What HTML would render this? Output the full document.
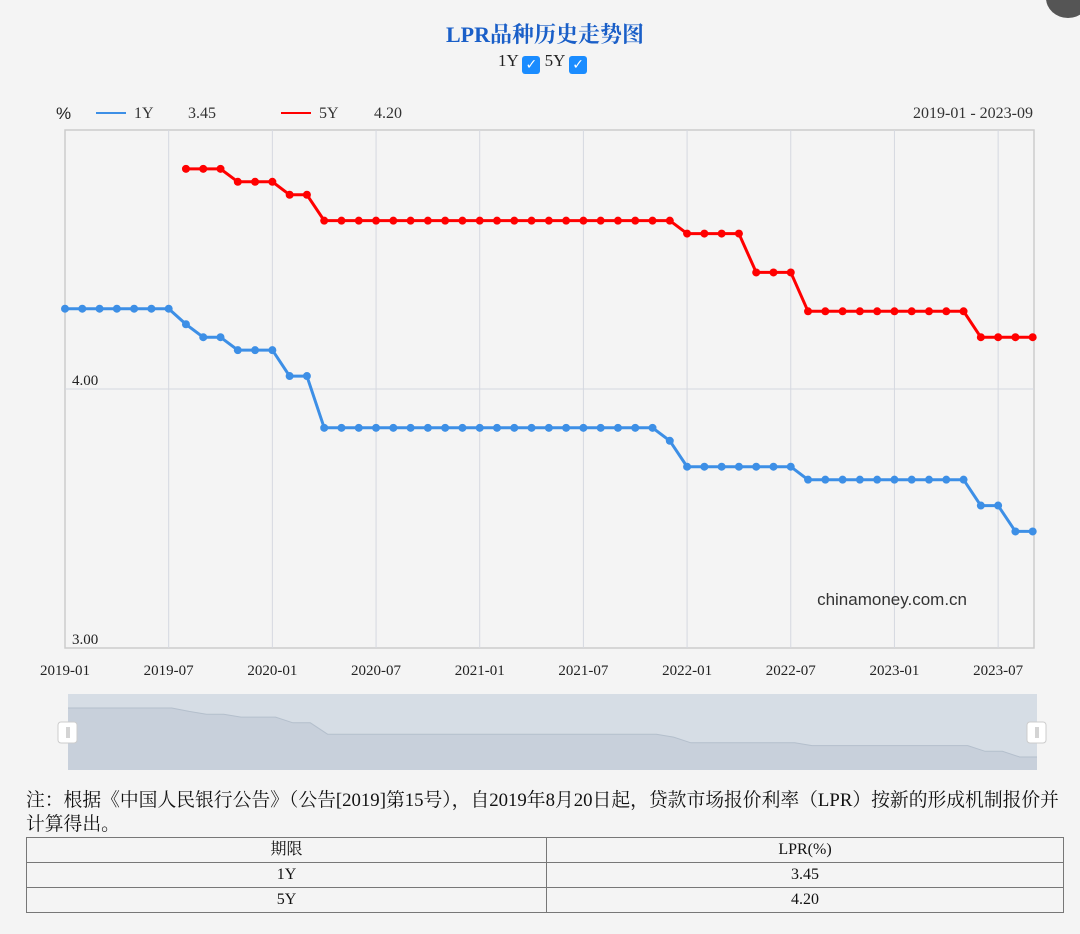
<!DOCTYPE html>
<html><head><meta charset="utf-8"><style>
body{margin:0;width:1080px;height:934px;background:#f4f4f4;font-family:"Liberation Serif","Noto Serif CJK SC",serif;overflow:hidden;position:relative}
.t{position:absolute;white-space:nowrap}
table{position:absolute;left:26px;top:837px;width:1038px;border-collapse:collapse;font-size:16px}
td{border:1.5px solid #777;text-align:center;height:24px;padding:0;color:#111;line-height:20px}
.cb{display:inline-block;width:18px;height:18px;background:#1a8cff;border-radius:3px;color:#fff;font-size:14px;font-weight:bold;line-height:18px;text-align:center;vertical-align:-3px;font-family:"DejaVu Sans",sans-serif}
</style></head><body>
<div style="position:absolute;left:1046px;top:-22px;width:44px;height:40px;border-radius:50%;background:#555"></div>
<div class="t" style="left:0;width:1090px;text-align:center;top:18px;font-size:22px;font-weight:bold;color:#1a5fc8">LPR品种历史走势图</div>
<div class="t" style="left:498px;top:51px;font-size:17px;color:#222">1Y <span class="cb">✓</span> 5Y <span class="cb">✓</span></div>
<svg id="s" width="1080" height="934" style="position:absolute;left:0;top:0" font-family="Liberation Serif, serif"></svg>
<div class="t" style="left:26px;top:789px;font-size:18.8px;line-height:24px;color:#111">注：根据《中国人民银行公告》（公告[2019]第15号），自2019年8月20日起，贷款市场报价利率（LPR）按新的形成机制报价并<br>计算得出。</div>
<table><tr><td style="width:519px">期限</td><td>LPR(%)</td></tr><tr><td>1Y</td><td>3.45</td></tr><tr><td>5Y</td><td>4.20</td></tr></table>
<script>
const y1=[4.31,4.31,4.31,4.31,4.31,4.31,4.31,4.25,4.20,4.20,4.15,4.15,4.15,4.05,4.05];
while(y1.length<35)y1.push(3.85);y1.push(3.80);while(y1.length<43)y1.push(3.70);while(y1.length<53)y1.push(3.65);y1.push(3.55,3.55,3.45,3.45);
const y5=[null,null,null,null,null,null,null,4.85,4.85,4.85,4.80,4.80,4.80,4.75,4.75];
while(y5.length<36)y5.push(4.65);y5.push(4.60,4.60,4.60,4.60,4.45,4.45,4.45);while(y5.length<53)y5.push(4.30);y5.push(4.20,4.20,4.20,4.20);
const X=i=>65+i*17.28,Y=v=>389-(v-4)*259;
let h='';
h+='<rect x="65" y="130" width="969" height="518" fill="none" stroke="#ccc" stroke-width="1.5"/>';
for(let k=1;k<10;k++)h+=`<line x1="${X(6*k)}" y1="130" x2="${X(6*k)}" y2="648" stroke="#d5d8e0"/>`;
h+='<line x1="65" y1="389" x2="1034" y2="389" stroke="#d5d8e0"/>';
const labs=['2019-01','2019-07','2020-01','2020-07','2021-01','2021-07','2022-01','2022-07','2023-01','2023-07'];
labs.forEach((l,k)=>h+=`<text x="${X(6*k)}" y="675" font-size="15" text-anchor="middle" fill="#222">${l}</text>`);
h+='<text x="72" y="385" font-size="15" fill="#222">4.00</text><text x="72" y="644" font-size="15" fill="#222">3.00</text>';
h+='<text x="56" y="119" font-size="17" fill="#222" font-family="Liberation Sans">%</text>';
h+='<line x1="96" y1="113" x2="126" y2="113" stroke="#3d8fe6" stroke-width="2"/><text x="134" y="118" font-size="16" fill="#333">1Y</text><text x="188" y="118" font-size="16" fill="#333">3.45</text>';
h+='<line x1="281" y1="113" x2="311" y2="113" stroke="#f00" stroke-width="2"/><text x="319" y="118" font-size="16" fill="#333">5Y</text><text x="374" y="118" font-size="16" fill="#333">4.20</text>';
h+='<text x="1033" y="118" font-size="16" fill="#333" text-anchor="end">2019-01 - 2023-09</text>';
h+='<text x="967" y="605" font-size="17" fill="#333" text-anchor="end" font-family="Liberation Sans">chinamoney.com.cn</text>';
function ser(a,c){let p=[],d='';a.forEach((v,i)=>{if(v!=null){p.push(X(i).toFixed(1)+','+Y(v).toFixed(1));d+=`<circle cx="${X(i)}" cy="${Y(v)}" r="4" fill="${c}"/>`}});return `<polyline points="${p.join(' ')}" fill="none" stroke="${c}" stroke-width="3"/>`+d}
h+=ser(y1,'#3d8fe6')+ser(y5,'#f00');
h+='<rect x="68" y="694" width="969" height="76" fill="#d6dde5"/>';
const SX=i=>68+i*969/56,SY=v=>708+(4.31-v)*57;
let sp=`68,770 `+y1.map((v,i)=>SX(i).toFixed(1)+','+SY(v).toFixed(1)).join(' ')+` 1037,770`;
h+=`<polygon points="${sp}" fill="#c8d0db" stroke="none"/><polyline points="${y1.map((v,i)=>SX(i).toFixed(1)+','+SY(v).toFixed(1)).join(' ')}" fill="none" stroke="#b4bfcc"/>`;
[68,1037].forEach(x=>h+=`<rect x="${x-10}" y="722" width="19" height="21" rx="3" fill="#fff" stroke="#ccc"/><line x1="${x-1}" y1="727" x2="${x-1}" y2="738" stroke="#aaa"/><line x1="${x+1}" y1="727" x2="${x+1}" y2="738" stroke="#aaa"/>`);
document.getElementById('s').innerHTML=h;
</script>
</body></html>
